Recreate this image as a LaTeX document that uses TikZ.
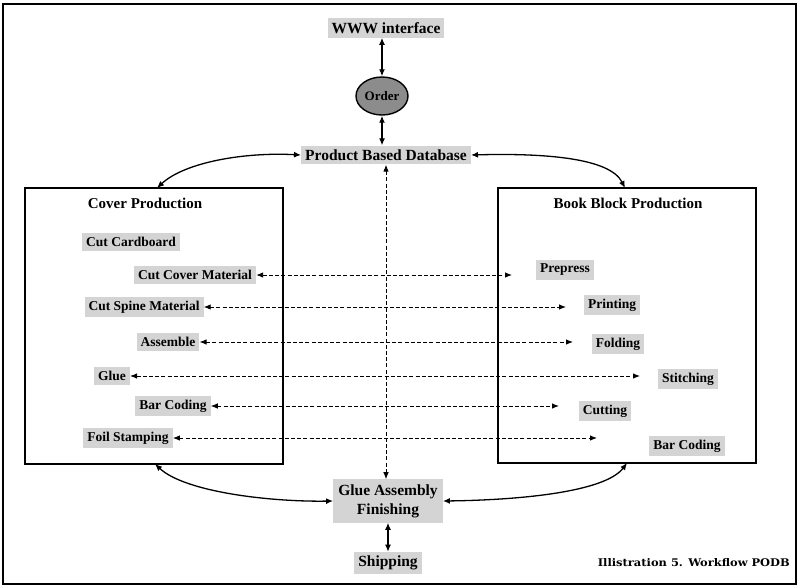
\documentclass[tikz,border=0pt]{standalone}
\usepackage{fontspec}
\setmainfont{Liberation Serif}
\newfontfamily\capfont{DejaVu Serif}
\usetikzlibrary{arrows.meta,shapes.geometric}
\begin{document}
\begin{tikzpicture}[x=1pt,y=-1pt,
  big/.style={font=\fontsize{15.5}{18}\selectfont\bfseries},
  item/.style={font=\fontsize{13.5}{16}\selectfont\bfseries},
  shade/.style={fill=black!17, inner sep=4pt},
  solidarrow/.style={{Latex[length=7pt,width=6pt]}-{Latex[length=7pt,width=6pt]}, line width=1.3pt},
  dasharrow/.style={{Latex[length=7pt,width=5.5pt]}-{Latex[length=7pt,width=5.5pt]}, line width=0.9pt, dash pattern=on 4pt off 2.2pt},
  boxframe/.style={draw, line width=1.5pt}
]
\useasboundingbox (0,0) rectangle (799,587);
\draw[line width=2pt] (3,4) rectangle (796,584);

% top chain
\node[big, shade] (www) at (386,28) {WWW interface};
\node[ellipse, draw, line width=1.4pt, fill=black!45, minimum width=52pt, minimum height=38pt, inner sep=1pt,
      font=\fontsize{13}{15}\selectfont\bfseries] (order) at (382,96) {Order};
\node[big, shade] (db) at (386,155) {Product Based Database};
\draw[solidarrow] (www.south -| order.north) -- (order.north);
\draw[solidarrow] (order.south) -- (order.south |- db.north);

% boxes
\draw[boxframe] (25,188) rectangle (283,464);
\draw[boxframe] (498,188) rectangle (756,463);
\coordinate (ltop) at (157,188);
\coordinate (rtop) at (625,188);
\coordinate (lbot) at (155,464);
\coordinate (rbot) at (627,463);

\node[font=\fontsize{15}{18}\selectfont\bfseries] (cp) at (145,203) {Cover Production};
\node[font=\fontsize{15}{18}\selectfont\bfseries] (bbp) at (628,203) {Book Block Production};

% left items
\node[item, shade] (cc)  at (131,242) {Cut Cardboard};
\node[item, shade] (ccm) at (195,275) {Cut Cover Material};
\node[item, shade] (csm) at (144,307) {Cut Spine Material};
\node[item, shade] (asm) at (168,342) {Assemble};
\node[item, shade] (glu) at (112,376) {Glue};
\node[item, shade] (bcl) at (173,406) {Bar Coding};
\node[item, shade] (fs)  at (128,438) {Foil Stamping};

% right items
\node[item, shade] (pp)  at (565,270) {Prepress};
\node[item, shade] (pr)  at (612,305) {Printing};
\node[item, shade] (fo)  at (618,344) {Folding};
\node[item, shade] (st)  at (688,379) {Stitching};
\node[item, shade] (cu)  at (605,411) {Cutting};
\node[item, shade] (bcr) at (687,446) {Bar Coding};

% arrow ends on the right
\coordinate (e1) at (512,275);
\coordinate (e2) at (566,307);
\coordinate (e3) at (573,342);
\coordinate (e4) at (640,376);
\coordinate (e5) at (559,406);
\coordinate (e6) at (597,438);

\draw[dasharrow] (ccm.east) -- (e1);
\draw[dasharrow] (csm.east) -- (e2);
\draw[dasharrow] (asm.east) -- (e3);
\draw[dasharrow] (glu.east) -- (e4);
\draw[dasharrow] (bcl.east) -- (e5);
\draw[dasharrow] (fs.east) -- (e6);

% bottom chain
\node[shade, align=center, inner sep=5pt, font=\fontsize{15.5}{19}\selectfont\bfseries] (ga) at (388,501) {Glue Assembly\\Finishing};
\node[big, shade] (sh) at (388,563) {Shipping};
\draw[solidarrow] (ga.south) -- (sh.north);

% vertical dashed
\draw[dasharrow] (db.south) -- (db.south |- ga.north);

% curves
\draw[solidarrow] (ltop) .. controls (185,162) and (245,152) .. (db.west);
\draw[solidarrow] (db.east) .. controls (545,153) and (610,158) .. (rtop);
\draw[solidarrow] (lbot) .. controls (185,492) and (270,502) .. (ga.west);
\draw[solidarrow] (ga.east) .. controls (520,500) and (605,492) .. (rbot);

% caption
\node[anchor=east, inner sep=0pt, font=\capfont\fontsize{10}{12}\selectfont\bfseries] (cap) at (790,563) {\resizebox{192pt}{8pt}{Illistration 5. Workflow PODB}};
\end{tikzpicture}
\end{document}
